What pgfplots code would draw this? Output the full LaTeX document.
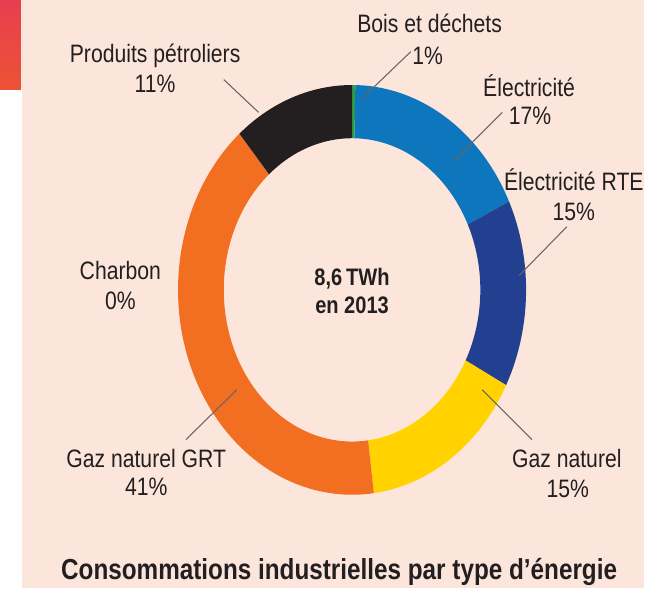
\documentclass[border=0pt]{standalone}
\usepackage{pgfplots}
\pgfplotsset{compat=1.18}
\usepgfplotslibrary{fillbetween}
\usepackage{fontspec}
\setmainfont{Liberation Sans}[FakeStretch=0.84]
\definecolor{bg}{HTML}{FCE6DC}
\definecolor{txt}{HTML}{231F20}
\definecolor{cgreen}{HTML}{2E9E3E}
\definecolor{cblue}{HTML}{0E76BC}
\definecolor{cnavy}{HTML}{233F8F}
\definecolor{cyellow}{HTML}{FFD200}
\definecolor{corange}{HTML}{F26F21}
\definecolor{cblack}{HTML}{231F20}
\definecolor{redtop}{HTML}{E83E50}
\definecolor{redbot}{HTML}{EC5334}
\definecolor{leader}{HTML}{6A6464}
\newcommand{\lbl}{\fontsize{19}{23}\selectfont}
% shares in percent, clockwise from the top
% Bois et dechets 0.3 | Electricite 17.6 | Electricite RTE 14.8 | Gaz naturel 15.3
% Gaz naturel GRT 40.8 | Charbon 0 | Produits petroliers 11.2
\newcommand{\seg}[4]{%
  \addplot[name path=o#4, draw=none, domain=90-3.6*(#1+#2):90-3.6*(#1), samples=90]
    ({354+175*cos(x)},{299.5+206*sin(x)});
  \addplot[name path=i#4, draw=none, domain=90-3.6*(#1+#2):90-3.6*(#1), samples=90]
    ({354+129*cos(x)},{299.5+152.5*sin(x)});
  \addplot[fill=#3, draw=none] fill between[of=o#4 and i#4];
}
\begin{document}
\begin{tikzpicture}
\begin{axis}[
  set layers,
  scale only axis, width=486pt, height=443.25pt,
  xmin=0, xmax=648, ymin=0, ymax=591,
  axis lines=none, ticks=none,
  axis background/.style={fill=bg},
  clip=false,
]
\seg{0}{0.3}{cgreen}{a}
\seg{0.3}{17.6}{cblue}{b}
\seg{17.9}{14.8}{cnavy}{c}
\seg{32.7}{15.3}{cyellow}{d}
\seg{48.0}{40.8}{corange}{e}
\seg{88.8}{11.2}{cblack}{g}

\fill[white] (axis cs:0,0) rectangle (axis cs:22,501);
\shade[top color=redtop, bottom color=redbot] (axis cs:0,501) rectangle (axis cs:21,591);

\draw[leader, line width=0.8pt] (axis cs:413,539) -- (axis cs:363,491);
\draw[leader, line width=0.8pt] (axis cs:225,511) -- (axis cs:260,478);
\draw[leader, line width=0.8pt] (axis cs:505,478) -- (axis cs:456,429);
\draw[leader, line width=0.8pt] (axis cs:570,363) -- (axis cs:522,314);
\draw[leader, line width=0.8pt] (axis cs:187,149) -- (axis cs:238,199);
\draw[leader, line width=0.8pt] (axis cs:485,199) -- (axis cs:535,149);

\node[anchor=base, font=\lbl, text=txt] at (axis cs:432,558) {Bois et déchets};
\node[anchor=base, font=\lbl, text=txt] at (axis cs:430,526) {1\%};
\node[anchor=base, font=\lbl, text=txt] at (axis cs:156,528) {Produits pétroliers};
\node[anchor=base, font=\lbl, text=txt] at (axis cs:156,498) {11\%};
\node[anchor=base, font=\lbl, text=txt] at (axis cs:532,494) {Électricité};
\node[anchor=base, font=\lbl, text=txt] at (axis cs:533,466) {17\%};
\node[anchor=base, font=\lbl, text=txt] at (axis cs:577,399) {Électricité RTE};
\node[anchor=base, font=\lbl, text=txt] at (axis cs:577,369) {15\%};
\node[anchor=base, font=\lbl, text=txt] at (axis cs:121,310) {Charbon};
\node[anchor=base, font=\lbl, text=txt] at (axis cs:121,280) {0\%};
\node[anchor=base, font=\lbl, text=txt] at (axis cs:147,121) {Gaz naturel GRT};
\node[anchor=base, font=\lbl, text=txt] at (axis cs:147,93) {41\%};
\node[anchor=base, font=\lbl, text=txt] at (axis cs:570,121) {Gaz naturel};
\node[anchor=base, font=\lbl, text=txt] at (axis cs:571,91) {15\%};
\node[anchor=base, font=\fontsize{18}{22}\selectfont\bfseries, text=txt] at (axis cs:354,304) {8,6\,TWh};
\node[anchor=base, font=\fontsize{18}{22}\selectfont\bfseries, text=txt] at (axis cs:354,276) {en 2013};
\node[anchor=base, font=\fontsize{21.8}{26}\selectfont\bfseries, text=txt] at (axis cs:341,8) {Consommations industrielles par type d’énergie};
\end{axis}
\end{tikzpicture}
\end{document}
